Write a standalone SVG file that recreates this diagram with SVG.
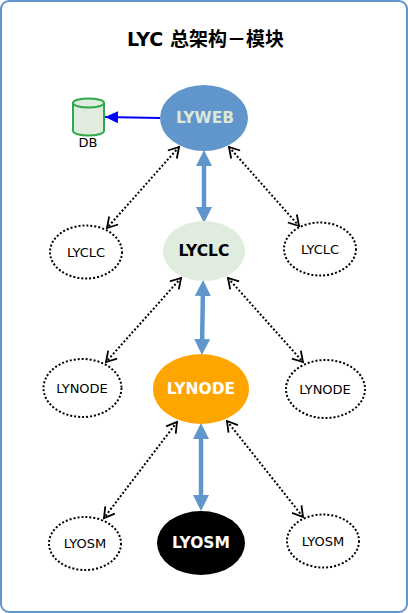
<svg xmlns="http://www.w3.org/2000/svg" width="408" height="613" viewBox="0 0 408 613">
<style>
text{font-family:"DejaVu Sans","Noto Sans CJK SC",sans-serif;text-anchor:middle}
.s{font-size:13px;fill:#000}
.b{font-size:15.500px;font-weight:bold}
.d{fill:#fff;stroke:#000;stroke-width:2;stroke-dasharray:2 2}
.dl{fill:none;stroke:#000;stroke-width:2;stroke-dasharray:2 2;marker-start:url(#o);marker-end:url(#o)}
.t{fill:none;stroke:#6096cb;stroke-width:4.500;marker-start:url(#f);marker-end:url(#f)}
</style>
<defs>
<marker id="o" markerUnits="userSpaceOnUse" markerWidth="16" markerHeight="16" refX="12" refY="8" orient="auto-start-reverse" viewBox="0 0 16 16"><path d="M2 2L12 8L2 14" fill="none" stroke="#000" stroke-width="1.800"/></marker>
<marker id="f" markerUnits="userSpaceOnUse" markerWidth="18" markerHeight="18" refX="9" refY="9" orient="auto-start-reverse" viewBox="0 0 18 18"><path d="M0 1L16 9L0 17Z" fill="#6096cb"/></marker>
<marker id="a" markerUnits="userSpaceOnUse" markerWidth="14" markerHeight="14" refX="13" refY="7" orient="auto" viewBox="0 0 14 14"><path d="M0 1L13 7L0 13Z" fill="#00f"/></marker>
</defs>
<rect x="1" y="1" width="406" height="611" rx="8" fill="#fff" stroke="#6096cb" stroke-width="2"/>
<text x="205.500" y="46" font-size="19" font-weight="bold">LYC 总架构－模块</text>
<g id="connectors">
<path d="M160 118L105 117" fill="none" stroke="#00f" stroke-width="2" marker-end="url(#a)"/>
<path class="t" d="M204 157L204 216"/>
<path class="t" d="M203 287L202 348"/>
<path class="t" d="M201 430L201 504"/>
<path class="dl" d="M179 147L107 228"/>
<path class="dl" d="M229 147L299 226"/>
<path class="dl" d="M181 278L106 362"/>
<path class="dl" d="M228 278L303 362"/>
<path class="dl" d="M177 422L104 518"/>
<path class="dl" d="M227 421L303 517"/>
</g>
<g id="db">
<path d="M73 103V131A15.500 4.500 0 0 0 104 131V103Z" fill="#e0ecde" stroke="#2fa84a" stroke-width="2"/>
<ellipse cx="88.500" cy="103" rx="15.500" ry="4.500" fill="#e0ecde" stroke="#2fa84a" stroke-width="2"/>
<text x="88" y="147" class="s">DB</text>
</g>
<g id="lyweb"><ellipse cx="204" cy="118" rx="44" ry="33" fill="#6096cb"/><text x="205" y="123" class="b" fill="#dce8d8">LYWEB</text></g>
<g id="lyclc-main"><ellipse cx="204" cy="251" rx="41" ry="30" fill="#e0ecde"/><text x="204" y="256" class="b" fill="#000">LYCLC</text></g>
<g id="lynode-main"><ellipse cx="201" cy="389" rx="48" ry="35" fill="#ffa500"/><text x="201" y="394" class="b" fill="#fff">LYNODE</text></g>
<g id="lyosm-main"><ellipse cx="201" cy="543" rx="44" ry="32" fill="#000"/><text x="201" y="548" class="b" fill="#fff">LYOSM</text></g>
<g id="lyclc-left"><ellipse class="d" cx="86" cy="252" rx="36" ry="26.500"/><text x="86" y="256.500" class="s">LYCLC</text></g>
<g id="lyclc-right"><ellipse class="d" cx="320" cy="249" rx="36" ry="26.500"/><text x="320" y="253.500" class="s">LYCLC</text></g>
<g id="lynode-left"><ellipse class="d" cx="82.500" cy="388" rx="39" ry="29"/><text x="82" y="392.500" class="s">LYNODE</text></g>
<g id="lynode-right"><ellipse class="d" cx="325.500" cy="389" rx="39.500" ry="29"/><text x="325" y="393.500" class="s">LYNODE</text></g>
<g id="lyosm-left"><ellipse class="d" cx="85" cy="543.500" rx="36" ry="26.500"/><text x="85" y="547.500" class="s">LYOSM</text></g>
<g id="lyosm-right"><ellipse class="d" cx="323" cy="541" rx="36" ry="26.500"/><text x="323" y="545.500" class="s">LYOSM</text></g>
</svg>
